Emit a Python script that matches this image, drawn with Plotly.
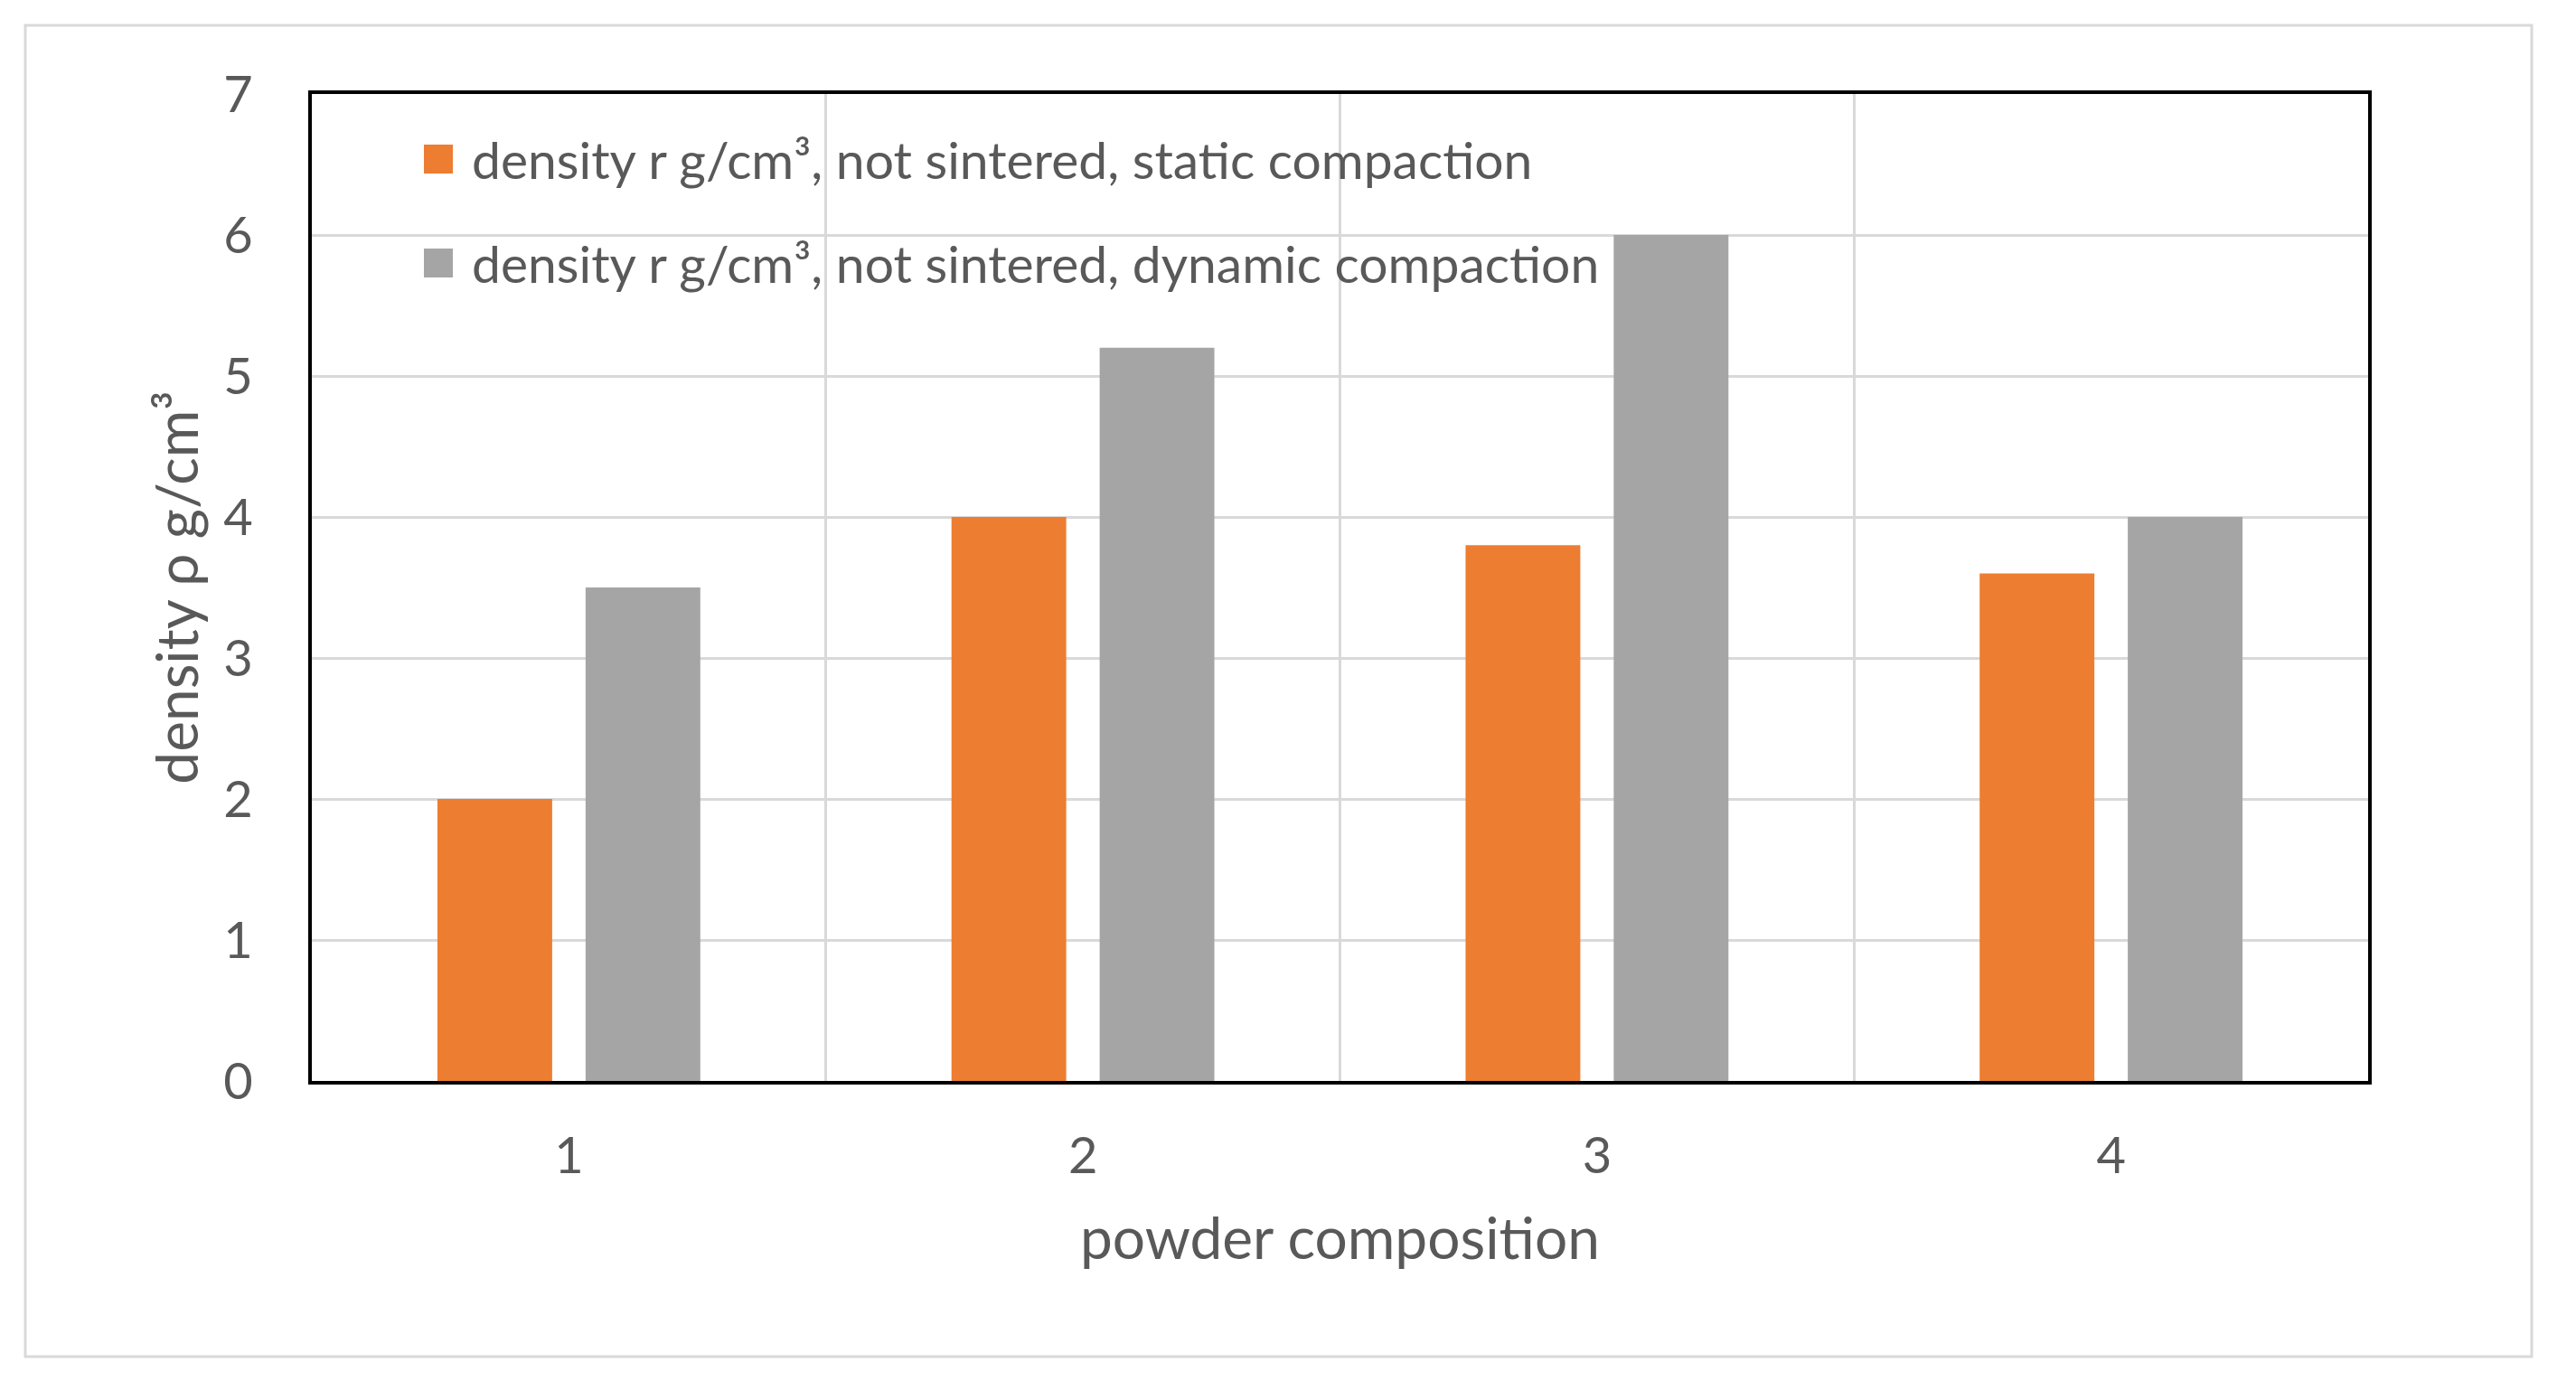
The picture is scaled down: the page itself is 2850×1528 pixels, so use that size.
import plotly.graph_objects as go

categories = [1, 2, 3, 4]
static_density = [2.0, 4.0, 3.8, 3.6]
dynamic_density = [3.5, 5.2, 6.0, 4.0]
series_names = [
    "density r g/cm³, not sintered, static compaction",
    "density r g/cm³, not sintered, dynamic compaction",
]
colors = ["#ED7D31", "#A5A5A5"]
y_ticks = [0, 1, 2, 3, 4, 5, 6, 7]

OFF = 8  # default page body margin
W, H = 2850 - 2 * OFF, 1528 - 2 * OFF
L = 345 - OFF
T = 104 - OFF
R = W - (2620 - OFF)
B = H - (1196 - OFF)
FONT = "Lato"
TXT = "#595959"
FS_TICK = 56
FS_TITLE = 64
FS_LEG = 57

fig = go.Figure()
for name, vals, col in zip(series_names, [static_density, dynamic_density], colors):
    fig.add_trace(go.Bar(x=categories, y=vals, name=name,
                         marker=dict(color=col, line=dict(width=0)), showlegend=False))

pw = W - L - R
ph = H - T - B
def px2x(p):
    return (p - OFF - L) / pw
def py2y(p):
    return (H - B - (p - OFF)) / ph

# outer chart-area border
fig.add_shape(type="rect", xref="paper", yref="paper",
              x0=px2x(28), x1=px2x(2801), y0=py2y(1501), y1=py2y(28),
              line=dict(color="#D9D9D9", width=3), layer="below")

# legend (keys + labels)
leg_rows = [176, 291]
for name, col, cy in zip(series_names, colors, leg_rows):
    fig.add_shape(type="rect", xref="paper", yref="paper",
                  x0=px2x(469), x1=px2x(501), y0=py2y(cy + 16), y1=py2y(cy - 16),
                  line=dict(width=0), fillcolor=col, layer="above")
    fig.add_annotation(xref="paper", yref="paper", x=px2x(520), y=py2y(cy),
                       xanchor="left", yanchor="middle", text=name, showarrow=False,
                       font=dict(family=FONT, size=FS_LEG, color=TXT))

fig.update_layout(
    width=W, height=H,
    margin=dict(l=L, r=R, t=T, b=B, autoexpand=False),
    paper_bgcolor="white", plot_bgcolor="white",
    barmode="group", bargap=0.4236, bargroupgap=0.2256,
    font=dict(family=FONT, size=FS_TICK, color=TXT),
    showlegend=False,
    xaxis=dict(range=[0.5, 4.5], tickvals=categories, ticktext=[str(c) for c in categories],
               showgrid=False, zeroline=False, showline=True, mirror=True, linecolor="black", linewidth=4,
               ticks="outside", ticklen=0, ticklabelstandoff=31,
               tickfont=dict(size=FS_TICK, color=TXT, family=FONT),
               minor=dict(tickmode="linear", tick0=0.5, dtick=1, showgrid=True,
                          gridcolor="#D9D9D9", gridwidth=3, ticks=""),
               title=dict(text="powder composition", standoff=40,
                          font=dict(size=FS_TITLE, color=TXT, family=FONT))),
    yaxis=dict(range=[0, 7], tickvals=y_ticks, showgrid=True, gridcolor="#D9D9D9", gridwidth=3,
               zeroline=False, showline=True, mirror=True, linecolor="black", linewidth=4,
               ticks="outside", ticklen=0, ticklabelstandoff=50,
               tickfont=dict(size=FS_TICK, color=TXT, family=FONT),
               title=dict(text="density ρ g/cm³", standoff=8,
                          font=dict(size=FS_TITLE, color=TXT, family=FONT))),
)

fig.write_html("out.html")
